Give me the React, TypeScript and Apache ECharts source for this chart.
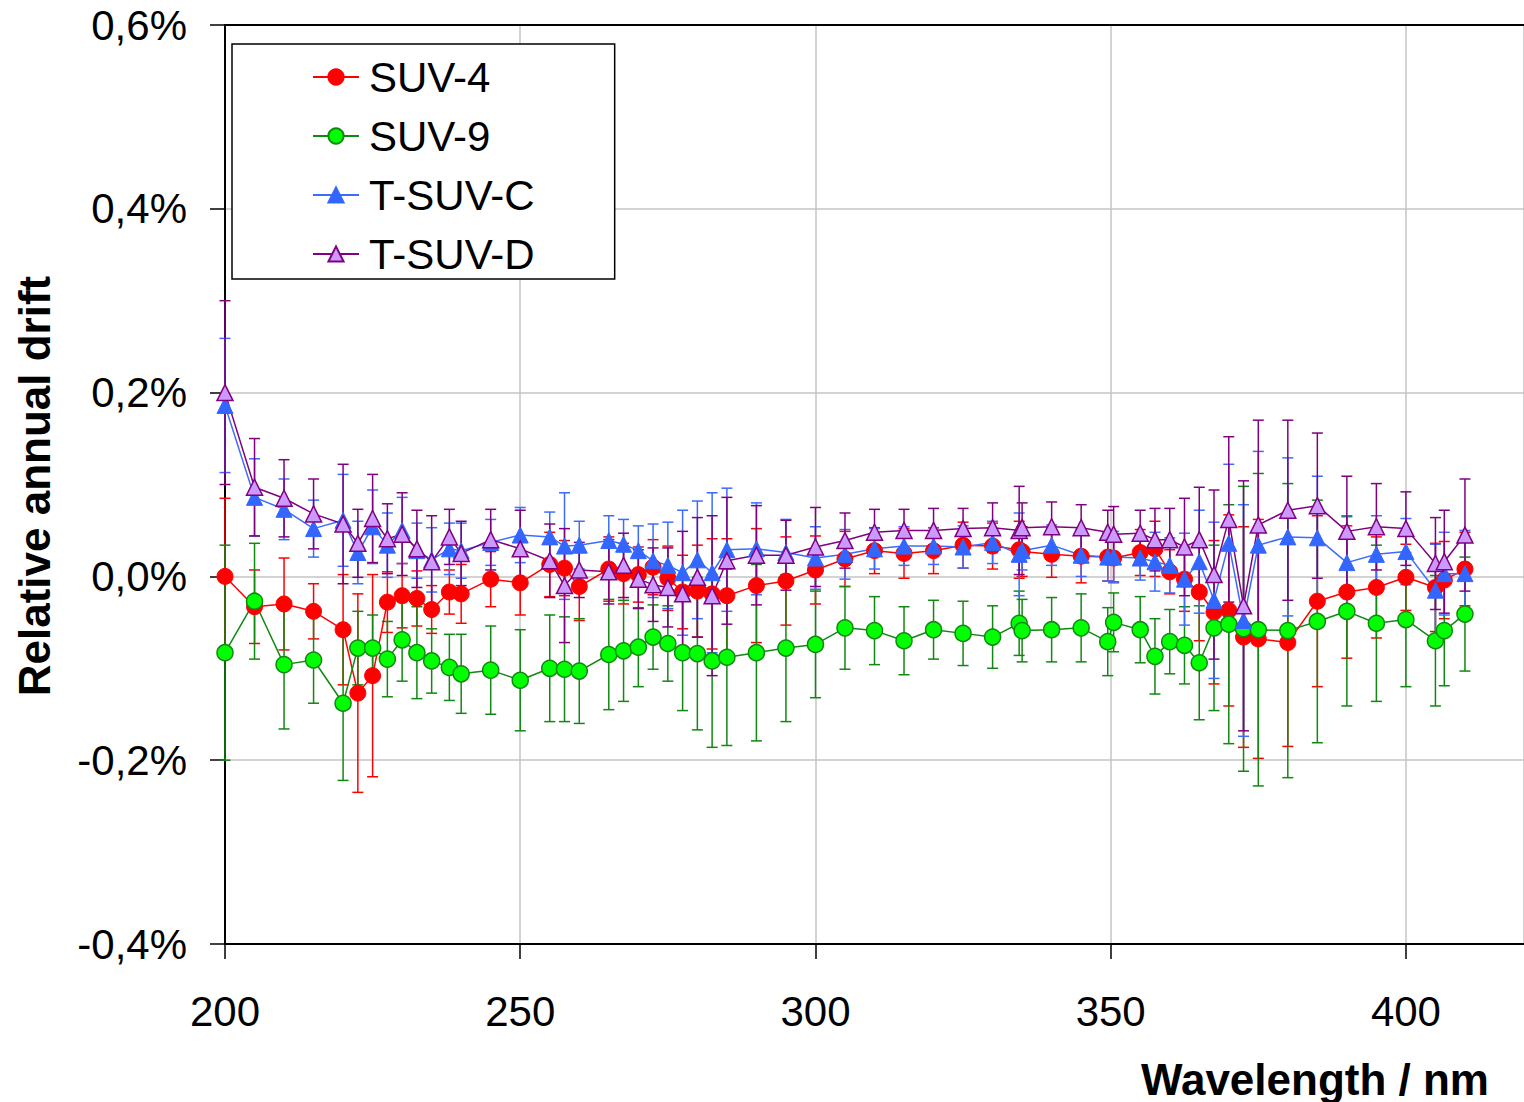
import React, { useEffect, useRef } from "react";
import * as echarts from "echarts";

const wavelengths = [200, 205, 210, 215, 220, 222.5, 225, 227.5, 230, 232.5, 235, 238, 240, 245, 250, 255, 257.5, 260, 265, 267.5, 270, 272.5, 275, 277.5, 280, 282.5, 285, 290, 295, 300, 305, 310, 315, 320, 325, 330, 334.5, 335, 340, 345, 349.5, 350.5, 355, 357.5, 360, 362.5, 365, 367.5, 370, 372.5, 375, 380, 385, 390, 395, 400, 405, 406.5, 410];

const suv4 = [0.0, -0.033, -0.03, -0.038, -0.058, -0.127, -0.108, -0.028, -0.021, -0.024, -0.036, -0.017, -0.019, -0.003, -0.007, 0.013, 0.009, -0.011, 0.008, 0.003, 0.002, 0.01, -0.002, -0.017, -0.016, -0.019, -0.021, -0.01, -0.005, 0.007, 0.019, 0.028, 0.025, 0.028, 0.034, 0.033, 0.029, 0.027, 0.024, 0.022, 0.021, 0.02, 0.026, 0.03, 0.005, -0.003, -0.017, -0.039, -0.037, -0.066, -0.068, -0.072, -0.027, -0.017, -0.012, -0.001, -0.012, -0.004, 0.008];
const suv4Err = [0.085, 0.04, 0.05, 0.03, 0.06, 0.108, 0.11, 0.033, 0.035, 0.03, 0.026, 0.024, 0.032, 0.03, 0.035, 0.035, 0.03, 0.037, 0.035, 0.033, 0.03, 0.03, 0.035, 0.04, 0.05, 0.06, 0.062, 0.062, 0.048, 0.037, 0.03, 0.025, 0.027, 0.025, 0.025, 0.025, 0.031, 0.027, 0.025, 0.029, 0.026, 0.026, 0.025, 0.03, 0.024, 0.035, 0.053, 0.078, 0.104, 0.12, 0.13, 0.113, 0.093, 0.072, 0.055, 0.036, 0.048, 0.042, 0.04];

const suv9 = [-0.083, -0.027, -0.096, -0.091, -0.138, -0.078, -0.078, -0.09, -0.069, -0.083, -0.092, -0.099, -0.106, -0.102, -0.113, -0.1, -0.101, -0.103, -0.085, -0.081, -0.077, -0.066, -0.073, -0.083, -0.084, -0.092, -0.088, -0.083, -0.078, -0.074, -0.056, -0.059, -0.07, -0.058, -0.062, -0.066, -0.051, -0.059, -0.058, -0.056, -0.071, -0.05, -0.058, -0.087, -0.071, -0.075, -0.094, -0.056, -0.052, -0.057, -0.058, -0.059, -0.049, -0.038, -0.051, -0.047, -0.07, -0.059, -0.041];
const suv9Err = [0.117, 0.063, 0.07, 0.047, 0.084, 0.04, 0.036, 0.041, 0.045, 0.05, 0.035, 0.036, 0.043, 0.048, 0.055, 0.058, 0.057, 0.057, 0.06, 0.055, 0.043, 0.035, 0.041, 0.063, 0.083, 0.094, 0.096, 0.096, 0.08, 0.058, 0.045, 0.037, 0.037, 0.032, 0.035, 0.034, 0.035, 0.034, 0.035, 0.037, 0.037, 0.032, 0.036, 0.041, 0.035, 0.042, 0.062, 0.09, 0.13, 0.155, 0.17, 0.16, 0.132, 0.103, 0.085, 0.073, 0.071, 0.06, 0.062];

const tsuvC = [0.186, 0.086, 0.073, 0.052, 0.061, 0.026, 0.054, 0.034, 0.05, 0.028, 0.018, 0.03, 0.028, 0.037, 0.045, 0.043, 0.033, 0.034, 0.039, 0.035, 0.028, 0.017, 0.012, 0.004, 0.018, 0.004, 0.029, 0.03, 0.026, 0.02, 0.024, 0.03, 0.033, 0.033, 0.032, 0.037, 0.024, 0.028, 0.034, 0.023, 0.021, 0.021, 0.02, 0.016, 0.012, -0.003, 0.016, -0.026, 0.036, -0.048, 0.034, 0.043, 0.042, 0.015, 0.024, 0.027, -0.015, 0.003, 0.003];
const tsuvCErr = [0.073, 0.042, 0.033, 0.031, 0.05, 0.034, 0.04, 0.035, 0.036, 0.03, 0.035, 0.028, 0.03, 0.025, 0.03, 0.027, 0.058, 0.026, 0.027, 0.027, 0.027, 0.04, 0.047, 0.068, 0.064, 0.087, 0.067, 0.05, 0.036, 0.034, 0.027, 0.022, 0.021, 0.02, 0.023, 0.023, 0.045, 0.021, 0.022, 0.023, 0.026, 0.028, 0.024, 0.032, 0.03, 0.05, 0.056, 0.085, 0.086, 0.126, 0.102, 0.086, 0.067, 0.051, 0.042, 0.036, 0.05, 0.045, 0.047];

const tsuvD = [0.2, 0.097, 0.085, 0.068, 0.057, 0.036, 0.063, 0.041, 0.046, 0.03, 0.016, 0.043, 0.025, 0.04, 0.03, 0.017, -0.01, 0.007, 0.005, 0.012, -0.003, -0.009, -0.012, -0.019, -0.001, -0.021, 0.017, 0.023, 0.023, 0.032, 0.039, 0.048, 0.05, 0.05, 0.052, 0.053, 0.05, 0.053, 0.054, 0.053, 0.048, 0.046, 0.047, 0.04, 0.04, 0.032, 0.04, 0.002, 0.062, -0.032, 0.056, 0.072, 0.077, 0.049, 0.054, 0.052, 0.014, 0.016, 0.045];
const tsuvDErr = [0.1, 0.053, 0.042, 0.038, 0.065, 0.037, 0.048, 0.038, 0.045, 0.042, 0.05, 0.03, 0.035, 0.033, 0.042, 0.04, 0.062, 0.03, 0.035, 0.035, 0.032, 0.04, 0.043, 0.068, 0.065, 0.087, 0.069, 0.054, 0.038, 0.043, 0.03, 0.025, 0.023, 0.024, 0.022, 0.027, 0.048, 0.027, 0.027, 0.025, 0.024, 0.03, 0.025, 0.034, 0.034, 0.053, 0.057, 0.092, 0.09, 0.136, 0.114, 0.098, 0.079, 0.06, 0.047, 0.04, 0.05, 0.056, 0.061];

const seriesNames = ["SUV-4", "SUV-9", "T-SUV-C", "T-SUV-D"];
const yTicks = { min: -0.4, max: 0.6, interval: 0.2 };
const xTicks = { min: 200, max: 420, interval: 50 };

const FONT = '"Liberation Sans", Arial, sans-serif';

function errorSeries(name: string, vals: number[], errs: number[], color: string) {
  return {
    type: "custom",
    name: name + " error",
    xAxisIndex: 0,
    yAxisIndex: 0,
    silent: true,
    data: wavelengths.map((w, i) => [w, vals[i] - errs[i], vals[i] + errs[i]]),
    encode: { x: 0, y: [1, 2] },
    renderItem: (params: any, api: any) => {
      const x = api.value(0);
      const lo = api.coord([x, api.value(1)]);
      const hi = api.coord([x, api.value(2)]);
      const hw = 5.5;
      const style = { stroke: color, lineWidth: 1.5, fill: "none" };
      return {
        type: "group",
        children: [
          { type: "line", shape: { x1: lo[0], y1: lo[1], x2: hi[0], y2: hi[1] }, style },
          { type: "line", shape: { x1: lo[0] - hw, y1: lo[1], x2: lo[0] + hw, y2: lo[1] }, style },
          { type: "line", shape: { x1: hi[0] - hw, y1: hi[1], x2: hi[0] + hw, y2: hi[1] }, style },
        ],
      };
    },
  };
}

function lineSeries(name: string, vals: number[], symbol: string, lineColor: string, fill: string, border: string, borderWidth: number, size: number) {
  return {
    type: "line",
    name,
    xAxisIndex: 0,
    yAxisIndex: 0,
    data: wavelengths.map((w, i) => [w, vals[i]]),
    symbol,
    symbolSize: size,
    showAllSymbol: true,
    clip: false,
    lineStyle: { color: lineColor, width: 1.5 },
    itemStyle: { color: fill, borderColor: border, borderWidth },
  };
}

export default function App() {
  const ref = useRef<HTMLDivElement>(null);
  useEffect(() => {
    document.body.style.margin = "0";
    if (!ref.current) return;
    const chart = echarts.init(ref.current, undefined, { renderer: "svg" });
    const option: any = {
      animation: false,
      backgroundColor: "#ffffff",
      textStyle: { fontFamily: FONT },
      grid: { left: 225, top: 25, width: 1301.5, height: 919, containLabel: false },
      legend: {
        data: seriesNames,
        orient: "vertical",
        left: 232,
        top: 44,
        padding: [12, 80, 4, 80],
        itemGap: 17,
        itemWidth: 46,
        itemHeight: 19,
        backgroundColor: "#ffffff",
        borderColor: "#000000",
        borderWidth: 1.5,
        textStyle: { fontSize: 42, lineHeight: 42, color: "#000", fontFamily: FONT, padding: [0, 0, 0, 5] },
      },
      xAxis: [
        {
          type: "value",
          min: xTicks.min,
          max: xTicks.max,
          interval: xTicks.interval,
          position: "bottom",
          axisLine: { show: true, onZero: false, lineStyle: { color: "#000", width: 2 } },
          axisTick: { show: true, inside: false, length: 15, lineStyle: { color: "#000", width: 1.5 } },
          axisLabel: {
            fontSize: 42,
            color: "#000",
            fontFamily: FONT,
            margin: 46,
            showMaxLabel: false,
            formatter: (v: number) => (v > 410 ? "" : String(Math.round(v))),
          },
          splitLine: { show: true, lineStyle: { color: "#C4C4C4", width: 1.5 } },
        },
        {
          type: "value",
          min: xTicks.min,
          max: xTicks.max,
          position: "top",
          axisLine: { show: true, onZero: false, lineStyle: { color: "#000", width: 2 } },
          axisTick: { show: false },
          axisLabel: { show: false },
          splitLine: { show: false },
        },
      ],
      yAxis: {
        type: "value",
        min: yTicks.min,
        max: yTicks.max,
        interval: yTicks.interval,
        axisLine: { show: true, onZero: false, lineStyle: { color: "#000", width: 2 } },
        axisTick: { show: true, inside: false, length: 15, lineStyle: { color: "#000", width: 1.5 } },
        axisLabel: {
          fontSize: 42,
          color: "#000",
          fontFamily: FONT,
          margin: 38,
          formatter: (v: number) => {
            const r = Math.round(v * 10) / 10;
            return (r === 0 ? "0,0" : r.toFixed(1).replace(".", ",")) + "%";
          },
        },
        splitLine: { show: true, lineStyle: { color: "#C4C4C4", width: 1.5 } },
      },
      graphic: [
        {
          type: "text",
          x: 34,
          y: 486,
          rotation: Math.PI / 2,
          style: {
            text: "Relative annual drift",
            font: 'bold 44px "Liberation Sans", Arial, sans-serif',
            fill: "#000",
            align: "center",
            verticalAlign: "middle",
            textAlign: "center",
            textVerticalAlign: "middle",
          },
        },
        {
          type: "text",
          x: 1315,
          y: 1079,
          style: {
            text: "Wavelength / nm",
            font: 'bold 44px "Liberation Sans", Arial, sans-serif',
            fill: "#000",
            align: "center",
            verticalAlign: "middle",
            textAlign: "center",
            textVerticalAlign: "middle",
          },
        },
      ],
      series: [
        errorSeries("SUV-4", suv4, suv4Err, "#FF0000"),
        lineSeries("SUV-4", suv4, "circle", "#FF0000", "#FF0000", "#FF0000", 1, 16),
        errorSeries("SUV-9", suv9, suv9Err, "#118811"),
        lineSeries("SUV-9", suv9, "circle", "#118811", "#00FF00", "#118811", 1.5, 16),
        errorSeries("T-SUV-C", tsuvC, tsuvCErr, "#3D6BFF"),
        lineSeries("T-SUV-C", tsuvC, "triangle", "#3D6BFF", "#3366FF", "#3366FF", 1, 16),
        errorSeries("T-SUV-D", tsuvD, tsuvDErr, "#800080"),
        lineSeries("T-SUV-D", tsuvD, "triangle", "#800080", "#CC99FF", "#800080", 1.5, 16),
      ],
    };
    chart.setOption(option);
    return () => chart.dispose();
  }, []);
  return <div ref={ref} style={{ width: 1524, height: 1102 }} />;
}
